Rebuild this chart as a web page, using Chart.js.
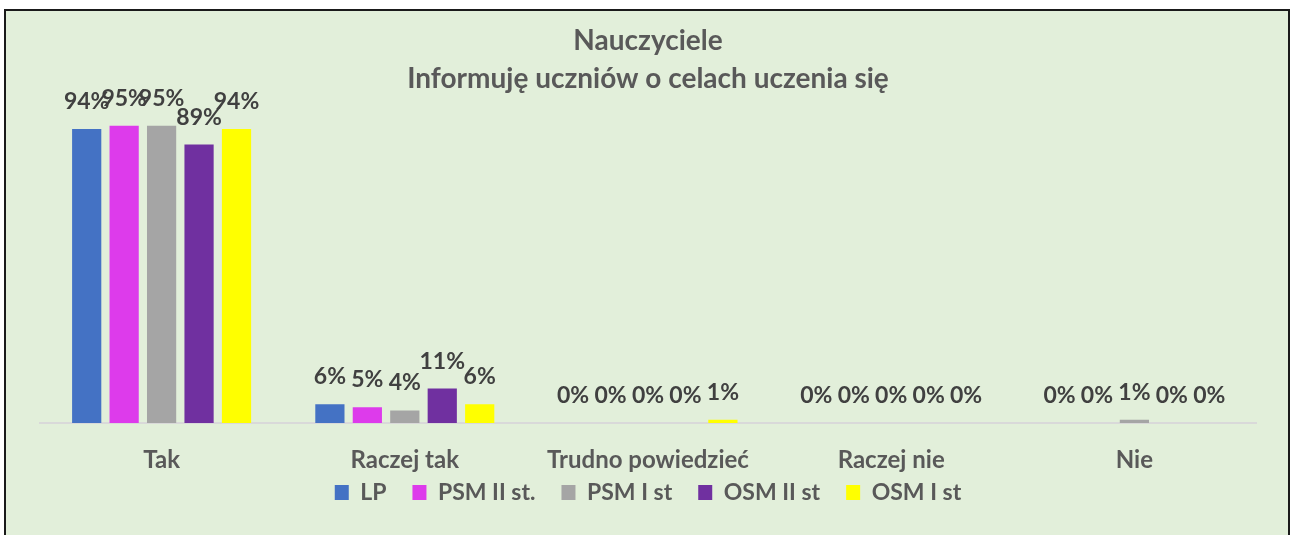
<!DOCTYPE html>
<html>
<head>
<meta charset="utf-8">
<script src="https://cdn.jsdelivr.net/npm/chart.js@4/dist/chart.umd.min.js"></script>
<style>
  html, body { margin: 0; padding: 0; background: #ffffff; }
  #frame { position: absolute; left: 4px; top: 9px; width: 1286px; height: 540px; border: 2px solid #1a1a1a; background: #E2EFDA; box-sizing: border-box; }
  #wrap { position: absolute; left: 0; top: 0; width: 1293px; height: 535px; }
</style>
</head>
<body>
<div id="frame"></div>
<div id="wrap"><canvas id="c" width="1293" height="535"></canvas></div>
<script>
const categories = ['Tak', 'Raczej tak', 'Trudno powiedzieć', 'Raczej nie', 'Nie'];
const seriesNames = ['LP', 'PSM II st.', 'PSM I st', 'OSM II st', 'OSM I st'];
const LP = [94, 6, 0, 0, 0];
const PSM_II = [95, 5, 0, 0, 0];
const PSM_I = [95, 4, 0, 0, 1];
const OSM_II = [89, 11, 0, 0, 0];
const OSM_I = [94, 6, 1, 0, 0];
const titleLines = ['Nauczyciele', 'Informuję uczniów o celach uczenia się'];
const colors = ['#4472C4', '#DD3BEB', '#A5A5A5', '#7030A0', '#FFFF00'];
const seriesValues = [LP, PSM_II, PSM_I, OSM_II, OSM_I];

const FONT = 'Lato, "Open Sans", sans-serif';

const dataLabels = {
  id: 'dataLabels',
  afterDatasetsDraw(chart) {
    const ctx = chart.ctx;
    ctx.save();
    ctx.font = 'bold 23px ' + FONT;
    ctx.fillStyle = '#404040';
    ctx.textAlign = 'center';
    ctx.textBaseline = 'alphabetic';
    chart.data.datasets.forEach((ds, i) => {
      const meta = chart.getDatasetMeta(i);
      meta.data.forEach((el, j) => {
        ctx.fillText(ds.data[j] + '%', el.x, el.y - 20);
      });
    });
    ctx.restore();
  }
};

// pull the legend row up closer to the category labels
const legendShift = {
  id: 'legendShift',
  afterLayout(chart) {
    const lg = chart.legend;
    if (lg) { lg.top -= 20; lg.bottom -= 20; }
  }
};

new Chart(document.getElementById('c'), {
  type: 'bar',
  data: {
    labels: categories,
    datasets: seriesNames.map((n, i) => ({
      label: n,
      data: seriesValues[i],
      backgroundColor: colors[i],
      borderWidth: 0,
      barPercentage: 0.78,
      categoryPercentage: 0.77
    }))
  },
  options: {
    responsive: false,
    animation: false,
    layout: { padding: { left: 40, right: 37, top: 22, bottom: 1 } },
    plugins: {
      title: {
        display: true,
        text: titleLines,
        color: '#595959',
        font: { family: FONT, size: 28, weight: 'bold', lineHeight: 1.36 },
        padding: { top: 0, bottom: 12 }
      },
      legend: {
        position: 'bottom',
        labels: {
          color: '#595959',
          font: { family: FONT, size: 23, weight: 'bold' },
          boxWidth: 14,
          boxHeight: 15,
          padding: 26
        }
      },
      tooltip: { enabled: false }
    },
    scales: {
      x: {
        grid: { display: false, drawTicks: false },
        border: { display: true, color: '#D9D9D9', width: 2 },
        ticks: { color: '#595959', font: { family: FONT, size: 24, weight: 'bold' }, padding: 23 },
        afterFit: (scale) => { scale.height = 52; }
      },
      y: {
        display: false,
        min: 0,
        max: 100
      }
    }
  },
  plugins: [dataLabels, legendShift]
});
</script>
</body>
</html>
